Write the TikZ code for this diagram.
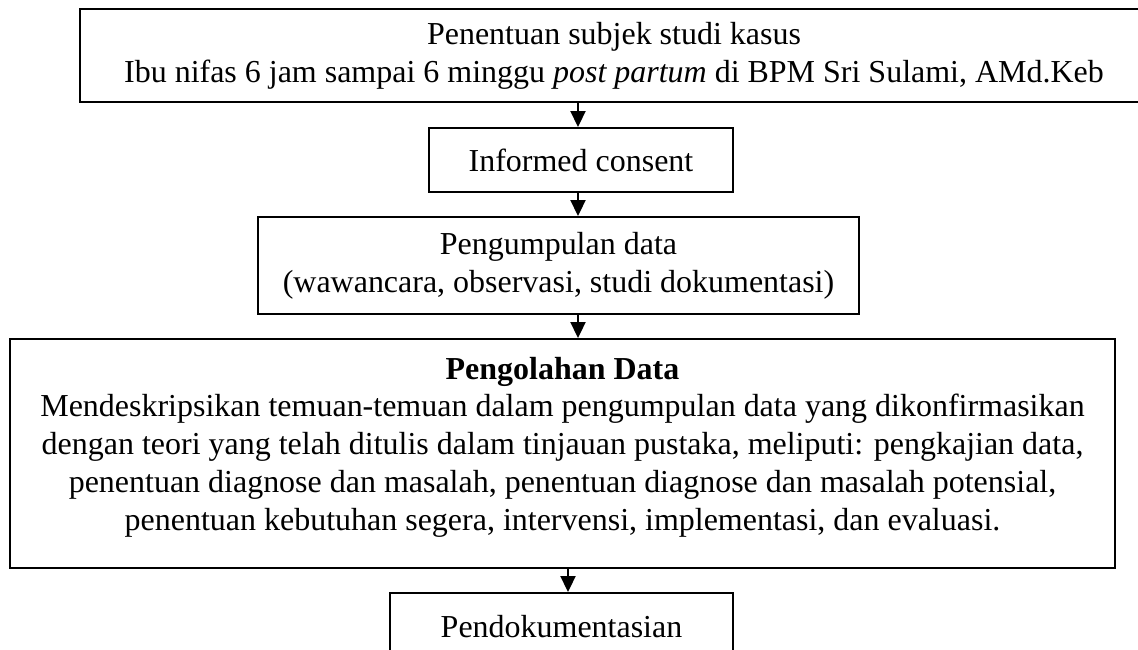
\documentclass[tikz,border=0pt]{standalone}
\usepackage{fontspec}
\setmainfont{Liberation Serif}
\usetikzlibrary{arrows.meta}
\begin{document}
\begin{tikzpicture}[x=0.02cm,y=-0.02cm,
    box/.style={draw,line width=1.1pt,inner sep=0pt,align=center,
      font=\fontsize{18.2}{21.5}\selectfont},
    flow/.style={line width=1.1pt,-{Triangle[length=0.32cm,width=0.3cm]}}]
  \useasboundingbox (0,0) rectangle (1138,649);
  \clip (0,0) rectangle (1138,649);
  \coordinate (axis) at (578,0);
  \coordinate (axisb) at (568,0);
  % boxes
  \node[box,minimum width=21.36cm,minimum height=1.86cm] (subjek) at (614,55.5)
    {Penentuan subjek studi kasus\\
     Ibu nifas 6 jam sampai 6 minggu \textit{post partum} di BPM Sri Sulami, AMd.Keb};
  \node[box,minimum width=6.08cm,minimum height=1.28cm] (consent) at (581,160)
    {Informed consent};
  \node[box,minimum width=12.02cm,minimum height=1.94cm] (kumpul) at (558.5,265.5)
    {Pengumpulan data\\(wawancara, observasi, studi dokumentasi)};
  \node[box,minimum width=22.1cm,minimum height=4.58cm] (olah) at (562.5,453.5) {};
  \node[box,draw=none,anchor=north] (olahtxt) at (562.5,356)
    {\textbf{Pengolahan Data}\\
     Mendeskripsikan temuan-temuan dalam pengumpulan data yang dikonfirmasikan\\
     dengan teori yang telah ditulis dalam tinjauan pustaka, meliputi: pengkajian data,\\
     penentuan diagnose dan masalah, penentuan diagnose dan masalah potensial,\\
     penentuan kebutuhan segera, intervensi, implementasi, dan evaluasi.};
  \node[box,minimum width=6.86cm,minimum height=1.36cm] (dokumen) at (561.5,627)
    {Pendokumentasian};
  % arrows
  \draw[flow] (subjek.south -| axis) -- (consent.north -| axis);
  \draw[flow] (consent.south -| axis) -- (kumpul.north -| axis);
  \draw[flow] (kumpul.south -| axis) -- (olah.north -| axis);
  \draw[flow] (olah.south -| axisb) -- (dokumen.north -| axisb);
\end{tikzpicture}
\end{document}
